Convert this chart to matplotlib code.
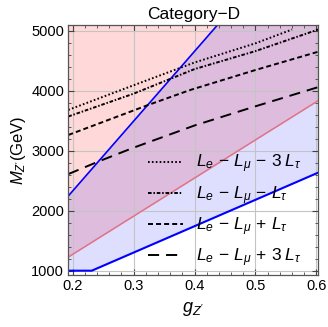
import numpy as np
import matplotlib
matplotlib.use("Agg")
import matplotlib.pyplot as plt
from matplotlib.ticker import MultipleLocator

plt.rcParams['font.family'] = ['Liberation Sans', 'DejaVu Sans']
plt.rcParams['mathtext.fontset'] = 'custom'
plt.rcParams['mathtext.rm'] = 'Liberation Sans'
plt.rcParams['mathtext.it'] = 'Liberation Sans:italic'
plt.rcParams['lines.scale_dashes'] = False

# ---- data ----
# boundary lines (g, M)
steep_g = [0.193, 0.603]
steep_M = [2245, 7020]
pink_g = [0.193, 0.603]
pink_M = [1227, 3835]
low_g = [0.193, 0.2315, 0.603]
low_M = [1000, 1000, 2635]

# model curves
dot_g = [0.193, 0.30, 0.40, 0.50, 0.56]
dot_M = [3680, 4090, 4470, 4790, 5020]
dd_g = [0.193, 0.30, 0.40, 0.50, 0.603]
dd_M = [3570, 3950, 4360, 4660, 5020]
dash_g = [0.193, 0.324, 0.393, 0.50, 0.603]
dash_M = [3262, 3762, 4012, 4345, 4650]
long_g = [0.193, 0.245, 0.30, 0.40, 0.50, 0.603]
long_M = [2610, 2830, 3050, 3420, 3740, 4060]

labels = [r'$L_e\,-\,L_\mu\,-\,3\;L_\tau$', r'$L_e\,-\,L_\mu\,-\,L_\tau$',
          r'$L_e\,-\,L_\mu\,+\,L_\tau$', r'$L_e\,-\,L_\mu\,+\,3\;L_\tau$']

xlim = (0.193, 0.603)
ylim = (928, 5095)

fig = plt.figure(figsize=(3.28, 3.27), dpi=100)
ax = fig.add_axes([68.3/328, 1-275/327, 250/328, 250/327])

gg = np.linspace(xlim[0], xlim[1], 400)
steep = np.interp(gg, steep_g, steep_M)
pink = np.interp(gg, pink_g, pink_M)
low = np.interp(gg, low_g, low_M)
top = np.full_like(gg, ylim[1] + 50)

ax.fill_between(gg, pink, top, color=(1, 0, 0), alpha=0.15, lw=0)
ax.fill_between(gg, low, np.minimum(steep, top), color=(0, 0, 1), alpha=0.13, lw=0)

ax.plot(steep_g, steep_M, color='#0000ff', lw=1.2)
ax.plot(low_g, low_M, color='#0000ff', lw=1.5)
ax.plot(pink_g, pink_M, color='#e07384', lw=1.1)

lw = 1.4
ax.plot(dot_g, dot_M, color='black', lw=lw, linestyle=(0, (1.2, 1.6)), label=labels[0])
ax.plot(dd_g, dd_M, color='black', lw=lw, linestyle=(0, (2.6, 1.3, 1.1, 1.3)), label=labels[1])
ax.plot(dash_g, dash_M, color='black', lw=lw, linestyle=(0, (3.6, 2.2)), label=labels[2])
ax.plot(long_g, long_M, color='black', lw=lw, linestyle=(0, (8, 5)), label=labels[3])

ax.set_xlim(*xlim)
ax.set_ylim(*ylim)
ax.xaxis.set_major_locator(MultipleLocator(0.1))
ax.xaxis.set_minor_locator(MultipleLocator(0.02))
ax.yaxis.set_major_locator(MultipleLocator(1000))
ax.yaxis.set_minor_locator(MultipleLocator(200))
ax.tick_params(which='both', direction='in', top=True, right=True, labelsize=10.5,
               color='#444444', pad=3)
ax.tick_params(which='major', length=4, width=0.8)
ax.tick_params(which='minor', length=2, width=0.6)
ax.grid(True, which='major', color='#c4c4c4', lw=0.8)
for s in ax.spines.values():
    s.set_color('#555555')
    s.set_linewidth(0.9)

ax.set_title('Category\u2212D', fontsize=12.5, pad=4)
ax.set_xlabel(r"$g_{Z'}$", fontsize=13, labelpad=5)
ax.set_ylabel(r"$M_{Z'}$(GeV)", fontsize=12, labelpad=2)

leg = ax.legend(loc='center left', bbox_to_anchor=(0.285, 0.256), frameon=False,
                fontsize=12.5, handlelength=2.0, handletextpad=0.75,
                labelspacing=0.5, borderpad=0)

fig.savefig('out.png', dpi=100)
